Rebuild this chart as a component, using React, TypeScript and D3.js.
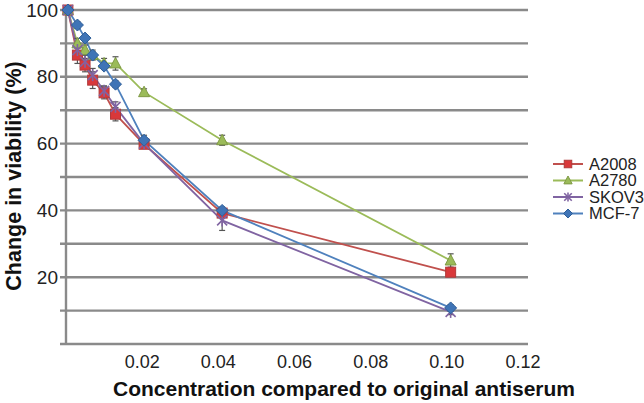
import React from "react";
import * as d3 from "d3";

// concentrations (fraction of original antiserum)
const conc = [0.0005, 0.003, 0.005, 0.007, 0.01, 0.013, 0.0205, 0.041, 0.101];

const a2008 = [100, 86.5, 83.5, 79, 75.2, 68.8, 59.8, 39.2, 21.5];
const a2008Err = [0.5, 2.5, 2, 2.5, 1.8, 2, 1.2, 1.2, 1];
const a2780 = [100, 90, 88, 86.5, 84, 84, 75.4, 61, 25];
const a2780Err = [0.5, 1.5, 1.5, 1.5, 1.5, 2, 1, 1.5, 2];
const skov3 = [100, 88, 84.5, 80.5, 75.8, 71, 60, 37, 9.6];
const skov3Err = [0.5, 2, 2, 2, 1.5, 1.5, 1, 3, 0.8];
const mcf7 = [100, 95.5, 91.6, 86.5, 83.2, 77.8, 61, 40, 10.8];
const mcf7Err = [0.5, 1, 1, 1, 1, 1, 1.5, 1, 1];

const seriesNames = ["A2008", "A2780", "SKOV3", "MCF-7"];
const xTicks = [0.02, 0.04, 0.06, 0.08, 0.1, 0.12];
const yLabels = [20, 40, 60, 80, 100];
const yGrid = [10, 20, 30, 40, 50, 60, 70, 80, 90, 100];

const colors = ["#c0504d", "#9bbb59", "#8064a2", "#4f81bd"];
const markerFill = ["#d9383a", "#9bbb59", "#8064a2", "#3f74b6"];

const font = "Liberation Sans, Arial, sans-serif";

function Marker({ kind, x, y, i, s = 1 }: { kind: number; x: number; y: number; i: number; s?: number }) {
  const c = colors[i];
  const f = markerFill[i];
  if (kind === 0) {
    return <rect x={x - 5 * s} y={y - 5 * s} width={10 * s} height={10 * s} fill={f} stroke="#b03a3a" strokeWidth={1} />;
  }
  if (kind === 1) {
    return (
      <path
        d={`M${x},${y - 6 * s}L${x + 5.5 * s},${y + 4.5 * s}L${x - 5.5 * s},${y + 4.5 * s}Z`}
        fill={f}
        stroke="#7f9a45"
        strokeWidth={1}
      />
    );
  }
  if (kind === 2) {
    return (
      <g stroke={c} strokeWidth={1.6}>
        <line x1={x - 5 * s} y1={y - 5 * s} x2={x + 5 * s} y2={y + 5 * s} />
        <line x1={x - 5 * s} y1={y + 5 * s} x2={x + 5 * s} y2={y - 5 * s} />
        <line x1={x} y1={y - 6 * s} x2={x} y2={y + 6 * s} />
      </g>
    );
  }
  return (
    <path
      d={`M${x},${y - 6 * s}L${x + 6 * s},${y}L${x},${y + 6 * s}L${x - 6 * s},${y}Z`}
      fill={f}
      stroke="#2f5f99"
      strokeWidth={1}
    />
  );
}

export default function App() {
  const width = 644;
  const height = 403;
  const x = d3.scaleLinear().domain([0, 0.12]).range([66, 523]);
  const y = d3.scaleLinear().domain([0, 100]).range([344, 10]);

  const data = [a2008, a2780, skov3, mcf7];
  const errs = [a2008Err, a2780Err, skov3Err, mcf7Err];

  const line = d3
    .line<number>()
    .x((_, i) => x(conc[i]))
    .y((d) => y(d));

  return (
    <svg width={width} height={height} style={{ position: "absolute", left: 0, top: 0, background: "#fff" }}>
      {/* gridlines */}
      {yGrid.map((v) => (
        <line key={v} x1={60} x2={528} y1={y(v)} y2={y(v)} stroke="#8a8a8a" strokeWidth={2.4} />
      ))}
      {/* axes */}
      <line x1={66} x2={66} y1={y(100)} y2={y(0)} stroke="#8a8a8a" strokeWidth={2.4} />
      <line x1={60} x2={528} y1={y(0)} y2={y(0)} stroke="#8a8a8a" strokeWidth={2.4} />

      {/* y labels */}
      {yLabels.map((v) => (
        <text key={v} x={58} y={y(v)} dy="0.35em" textAnchor="end" fontFamily={font} fontSize={19} fill="#222">
          {v}
        </text>
      ))}
      {/* x labels */}
      {xTicks.map((v) => (
        <text key={v} x={x(v)} y={362} dy="0.35em" textAnchor="middle" fontFamily={font} fontSize={18} fill="#222">
          {v.toFixed(2)}
        </text>
      ))}

      {/* titles */}
      <text x={344} y={396} textAnchor="middle" fontFamily={font} fontSize={21} fontWeight="bold" fill="#111">
        Concentration compared to original antiserum
      </text>
      <text
        transform="translate(21,176) rotate(-90)"
        textAnchor="middle"
        fontFamily={font}
        fontSize={21.5}
        fontWeight="bold"
        fill="#111"
      >
        Change in viability (%)
      </text>

      {/* series */}
      {data.map((s, k) => (
        <path key={k} d={line(s) || ""} fill="none" stroke={colors[k]} strokeWidth={1.8} />
      ))}
      {data.map((s, k) => (
        <g key={"e" + k} stroke="#555" strokeWidth={1.2}>
          {s.map((v, i) => (
            <g key={i}>
              <line x1={x(conc[i])} x2={x(conc[i])} y1={y(v - errs[k][i])} y2={y(v + errs[k][i])} />
              <line x1={x(conc[i]) - 3} x2={x(conc[i]) + 3} y1={y(v - errs[k][i])} y2={y(v - errs[k][i])} />
              <line x1={x(conc[i]) - 3} x2={x(conc[i]) + 3} y1={y(v + errs[k][i])} y2={y(v + errs[k][i])} />
            </g>
          ))}
        </g>
      ))}
      {data.map((s, k) => (
        <g key={"m" + k}>
          {s.map((v, i) => (
            <Marker key={i} kind={k} x={x(conc[i])} y={y(v)} i={k} />
          ))}
        </g>
      ))}

      {/* legend */}
      {seriesNames.map((n, k) => {
        const ly = 164 + k * 16.5;
        return (
          <g key={n}>
            <line x1={553} x2={583} y1={ly} y2={ly} stroke={colors[k]} strokeWidth={2} />
            <Marker kind={k} x={568} y={ly} i={k} s={0.75} />
            <text x={589} y={ly} dy="0.35em" fontFamily={font} fontSize={16.5} fill="#222">
              {n}
            </text>
          </g>
        );
      })}
    </svg>
  );
}
